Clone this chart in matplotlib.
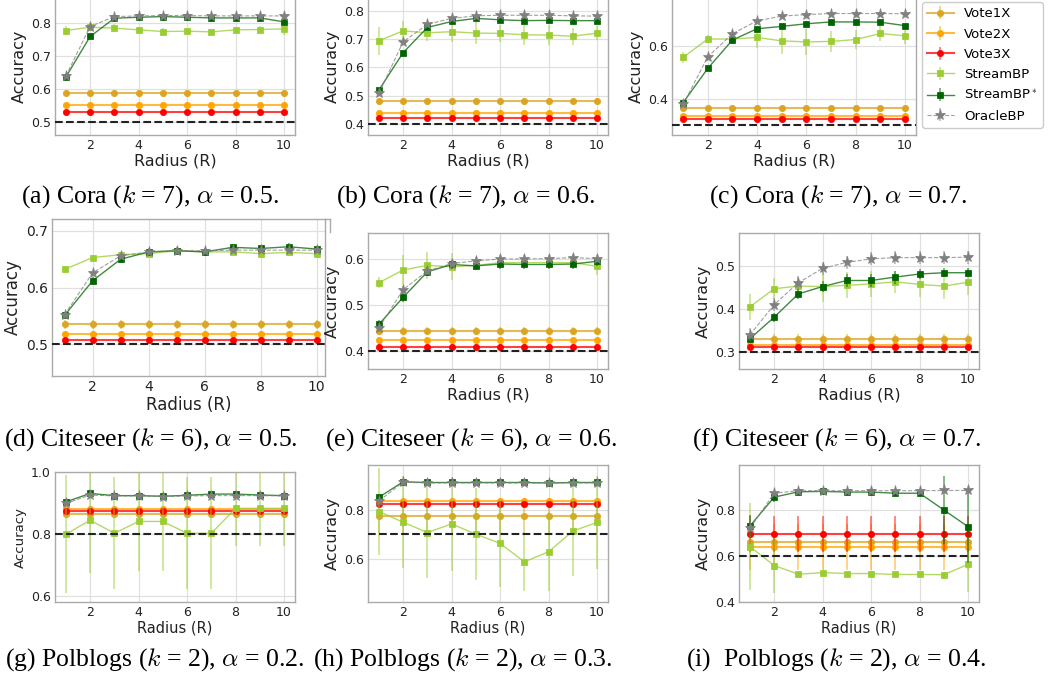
import matplotlib
matplotlib.use('Agg')
import matplotlib.pyplot as plt
from matplotlib.colors import to_rgba
from matplotlib.lines import Line2D
from matplotlib.transforms import Bbox, TransformedBbox

plt.rcParams['mathtext.fontset'] = 'cm'

# ---------------- data ----------------
radius = [1, 2, 3, 4, 5, 6, 7, 8, 9, 10]
methods = ['Vote1X', 'Vote2X', 'Vote3X', 'StreamBP', r'StreamBP$^*$', 'OracleBP']
captions = [
    r'(a) Cora ($k$ = 7), $\alpha$ = 0.5.',
    r'(b) Cora ($k$ = 7), $\alpha$ = 0.6.',
    r'(c) Cora ($k$ = 7), $\alpha$ = 0.7.',
    r'(d) Citeseer ($k$ = 6), $\alpha$ = 0.5.',
    r'(e) Citeseer ($k$ = 6), $\alpha$ = 0.6.',
    r'(f) Citeseer ($k$ = 6), $\alpha$ = 0.7.',
    r'(g) Polblogs ($k$ = 2), $\alpha$ = 0.2.',
    r'(h) Polblogs ($k$ = 2), $\alpha$ = 0.3.',
    r'(i)  Polblogs ($k$ = 2), $\alpha$ = 0.4.',
]
baseline = [0.5, 0.4, 0.3, 0.5, 0.4, 0.3, 0.8, 0.7, 0.6]

# constant vote baselines (one value per panel)
vote1x = [0.589, 0.480, 0.363, 0.535, 0.443, 0.331, 0.864, 0.777, 0.661]
vote2x = [0.550, 0.440, 0.335, 0.518, 0.423, 0.316, 0.880, 0.836, 0.639]
vote3x = [0.529, 0.421, 0.322, 0.507, 0.409, 0.312, 0.876, 0.823, 0.696]
vote1x_err = [0.003, 0.003, 0.003, 0.008, 0.008, 0.012, 0.004, 0.070, 0.020]
vote2x_err = [0.003, 0.003, 0.003, 0.006, 0.006, 0.010, 0.004, 0.010, 0.100]
vote3x_err = [0.003, 0.003, 0.003, 0.005, 0.005, 0.008, 0.004, 0.008, 0.080]

stream_a = [0.776, 0.786, 0.783, 0.778, 0.773, 0.774, 0.772, 0.778, 0.779, 0.781]
stream_b = [0.694, 0.729, 0.722, 0.726, 0.721, 0.720, 0.715, 0.714, 0.710, 0.721]
stream_c = [0.557, 0.627, 0.627, 0.633, 0.620, 0.616, 0.618, 0.625, 0.648, 0.639]
stream_d = [0.632, 0.653, 0.658, 0.660, 0.665, 0.663, 0.663, 0.660, 0.662, 0.660]
stream_e = [0.549, 0.577, 0.587, 0.584, 0.587, 0.593, 0.593, 0.593, 0.593, 0.585]
stream_f = [0.405, 0.447, 0.453, 0.452, 0.455, 0.458, 0.463, 0.457, 0.453, 0.462]
stream_g = [0.800, 0.845, 0.803, 0.841, 0.841, 0.803, 0.803, 0.883, 0.883, 0.883]
stream_h = [0.793, 0.750, 0.708, 0.743, 0.701, 0.664, 0.589, 0.630, 0.714, 0.749]
stream_i = [0.641, 0.559, 0.521, 0.528, 0.524, 0.524, 0.520, 0.520, 0.519, 0.564]

stream_err_a = [0.015, 0.012, 0.013, 0.010, 0.010, 0.010, 0.010, 0.010, 0.012, 0.020]
stream_err_b = [0.050, 0.035, 0.030, 0.035, 0.040, 0.030, 0.035, 0.035, 0.030, 0.025]
stream_err_c = [0.020, 0.015, 0.020, 0.040, 0.050, 0.050, 0.040, 0.035, 0.030, 0.030]
stream_err_d = [0.006, 0.005, 0.005, 0.006, 0.005, 0.005, 0.006, 0.006, 0.006, 0.006]
stream_err_e = [0.012, 0.033, 0.030, 0.030, 0.008, 0.008, 0.010, 0.012, 0.010, 0.020]
stream_err_f = [0.030, 0.025, 0.020, 0.035, 0.030, 0.030, 0.025, 0.030, 0.030, 0.030]
stream_err_g = [0.190, 0.170, 0.180, 0.160, 0.160, 0.180, 0.180, 0.120, 0.120, 0.120]
stream_err_h = [0.178, 0.187, 0.185, 0.190, 0.187, 0.177, 0.120, 0.160, 0.184, 0.190]
stream_err_i = [0.190, 0.120, 0.005, 0.005, 0.005, 0.005, 0.005, 0.005, 0.005, 0.120]

star_a = [0.636, 0.758, 0.813, 0.816, 0.818, 0.816, 0.814, 0.814, 0.814, 0.802]
star_b = [0.520, 0.652, 0.741, 0.762, 0.773, 0.768, 0.765, 0.766, 0.765, 0.765]
star_c = [0.385, 0.515, 0.623, 0.666, 0.675, 0.685, 0.692, 0.692, 0.691, 0.678]
star_d = [0.551, 0.612, 0.650, 0.663, 0.665, 0.663, 0.671, 0.669, 0.672, 0.668]
star_e = [0.458, 0.517, 0.573, 0.589, 0.586, 0.590, 0.589, 0.589, 0.590, 0.596]
star_f = [0.331, 0.381, 0.435, 0.452, 0.466, 0.466, 0.474, 0.481, 0.484, 0.484]
star_g = [0.904, 0.931, 0.924, 0.924, 0.922, 0.925, 0.929, 0.929, 0.926, 0.924]
star_h = [0.851, 0.914, 0.911, 0.911, 0.911, 0.911, 0.911, 0.909, 0.911, 0.911]
star_i = [0.731, 0.857, 0.880, 0.882, 0.879, 0.879, 0.874, 0.874, 0.801, 0.728]

star_err_f = [0.006, 0.010, 0.012, 0.012, 0.015, 0.015, 0.015, 0.012, 0.010, 0.010]
star_err_i = [0.050, 0.020, 0.005, 0.005, 0.005, 0.005, 0.005, 0.005, 0.150, 0.160]
star_err_other = [0.005, 0.005, 0.005, 0.006, 0.010, None, 0.004, 0.004, None]

oracle_a = [0.639, 0.788, 0.818, 0.820, 0.821, 0.821, 0.820, 0.820, 0.820, 0.820]
oracle_b = [0.508, 0.690, 0.752, 0.773, 0.782, 0.784, 0.784, 0.784, 0.782, 0.781]
oracle_c = [0.378, 0.559, 0.647, 0.696, 0.714, 0.720, 0.724, 0.724, 0.724, 0.723]
oracle_d = [0.552, 0.626, 0.656, 0.663, 0.665, 0.665, 0.666, 0.666, 0.666, 0.666]
oracle_e = [0.450, 0.534, 0.575, 0.591, 0.597, 0.601, 0.601, 0.602, 0.604, 0.602]
oracle_f = [0.340, 0.410, 0.461, 0.494, 0.508, 0.516, 0.519, 0.519, 0.519, 0.520]
oracle_g = [0.899, 0.926, 0.923, 0.923, 0.921, 0.923, 0.924, 0.924, 0.924, 0.923]
oracle_h = [0.836, 0.912, 0.909, 0.909, 0.909, 0.909, 0.909, 0.909, 0.909, 0.909]
oracle_i = [0.721, 0.874, 0.885, 0.885, 0.885, 0.885, 0.885, 0.885, 0.886, 0.886]
oracle_err = [0.004, 0.004, 0.005, 0.004, 0.008, 0.015, 0.003, 0.003, 0.003]

streams = [stream_a, stream_b, stream_c, stream_d, stream_e, stream_f, stream_g, stream_h, stream_i]
stream_errs = [stream_err_a, stream_err_b, stream_err_c, stream_err_d, stream_err_e,
               stream_err_f, stream_err_g, stream_err_h, stream_err_i]
stars = [star_a, star_b, star_c, star_d, star_e, star_f, star_g, star_h, star_i]
oracles = [oracle_a, oracle_b, oracle_c, oracle_d, oracle_e, oracle_f, oracle_g, oracle_h, oracle_i]

# ---------------- layout (pixels: left, top, right, bottom) ----------------
W, H = 1048, 682
fig = plt.figure(figsize=(W / 100, H / 100), dpi=100)

boxes = [
    (55, -2, 295, 135), (368, -2, 608, 135), (672, -2, 916, 135),
    (52, 219, 325, 376), (368, 233, 608, 369), (739, 233, 979, 369),
    (55, 472, 295, 602), (368, 465, 608, 602), (739, 465, 979, 602),
]
ylims = [(0.461, 0.874), (0.361, 0.845), (0.262, 0.783),
         (0.444, 0.721), (0.360, 0.658), (0.261, 0.576),
         (0.582, 1.000), (0.426, 0.982), (0.400, 0.997)]
yticks = [[0.5, 0.6, 0.7, 0.8], [0.4, 0.5, 0.6, 0.7, 0.8], [0.4, 0.6],
          [0.5, 0.6, 0.7], [0.4, 0.5, 0.6], [0.3, 0.4, 0.5],
          [0.6, 0.8, 1.0], [0.6, 0.8], [0.4, 0.6, 0.8]]
cap_pos = [(150, 197), (466, 197), (838, 197),
           (151, 440), (471, 440), (837, 440),
           (155, 660), (463, 660), (836, 660)]

colors = ['goldenrod', 'orange', 'red', 'yellowgreen', 'darkgreen', 'gray']
markers = ['o', 'o', 'o', 's', 's', '*']
msizes = [4.5, 4.5, 4.5, 5, 5, 8]
lws = [1.5, 1.5, 1.5, 1.0, 1.0, 0.8]
lstyles = ['-', '-', '-', '-', '-', '--']

def px_axes(l, t, r, b):
    return fig.add_axes([l / W, 1 - b / H, (r - l) / W, (b - t) / H])

legend_handles = None
for p in range(9):
    ax = px_axes(*boxes[p])
    big = (p == 3)
    tick_fs = 10 if big else 9
    ylab_fs = 12 if big else 11.5
    xlab_fs = 12 if big else 11.5
    if p >= 6:
        xlab_fs = 10.5
    if p == 6:
        ylab_fs = 9.5
    n = len(radius)
    series = [
        ([vote1x[p]] * n, vote1x_err[p]),
        ([vote2x[p]] * n, vote2x_err[p]),
        ([vote3x[p]] * n, vote3x_err[p]),
        (streams[p], stream_errs[p]),
        (stars[p], star_err_f if p == 5 else (star_err_i if p == 8 else star_err_other[p])),
        (oracles[p], oracle_err[p]),
    ]
    handles = []
    for k, (yv, ye) in enumerate(series):
        c = colors[k]
        h = ax.errorbar(radius, yv, yerr=ye, color=to_rgba(c, 0.75), ls=lstyles[k],
                        lw=lws[k], marker=markers[k], ms=msizes[k],
                        mfc=c, mec=to_rgba(c, 0.9), mew=0.6,
                        ecolor=to_rgba(c, 0.55), elinewidth=1.2, capsize=0,
                        label=methods[k], zorder=3 + k)
        handles.append(h)
    if legend_handles is None:
        legend_handles = handles
    ax.axhline(baseline[p], color='#222222', ls='--', lw=1.5, zorder=10)
    ax.set_ylim(*ylims[p])
    ax.set_xlim(0.55, 10.3 if big else 10.45)
    ax.set_yticks(yticks[p])
    ax.set_xticks([2, 4, 6, 8, 10])
    ax.grid(True, color='#e0e0e0', lw=0.9)
    ax.set_axisbelow(True)
    for s in ax.spines.values():
        s.set_color('#aaaaaa')
        s.set_linewidth(1.0)
    ax.tick_params(length=0, pad=3, labelsize=tick_fs, colors='#222222')
    ax.set_xlabel('Radius (R)', fontsize=xlab_fs, labelpad=1, color='#222222')
    ax.set_ylabel('Accuracy', fontsize=ylab_fs, labelpad=3, color='#222222')
    if big:
        clip = TransformedBbox(Bbox.from_extents(0, 0, 325 / W, 1), fig.transFigure)
        for t in ax.get_xticklabels():
            t.set_clip_box(clip)
            t.set_clip_on(True)

    cx, cy = cap_pos[p]
    fig.text(cx / W, 1 - cy / H, captions[p], ha='center', va='center',
             fontsize=18.5, family='Liberation Serif')

# frame fragment to the right of panel (d)
fig.add_artist(Line2D([325 / W, 330 / W], [1 - 219 / H, 1 - 219 / H],
                      transform=fig.transFigure, color='#aaaaaa', lw=1))
fig.add_artist(Line2D([330 / W, 330 / W], [1 - 219 / H, 1 - 232 / H],
                      transform=fig.transFigure, color='#aaaaaa', lw=1))

fig.legend(legend_handles, methods, loc='upper left',
           bbox_to_anchor=(922 / W, 1 - 2 / H), borderaxespad=0,
           fontsize=9.5, frameon=True, fancybox=True, edgecolor='#cccccc',
           framealpha=1, handlelength=2.0, labelspacing=0.55)

fig.savefig('out.png', dpi=100)
